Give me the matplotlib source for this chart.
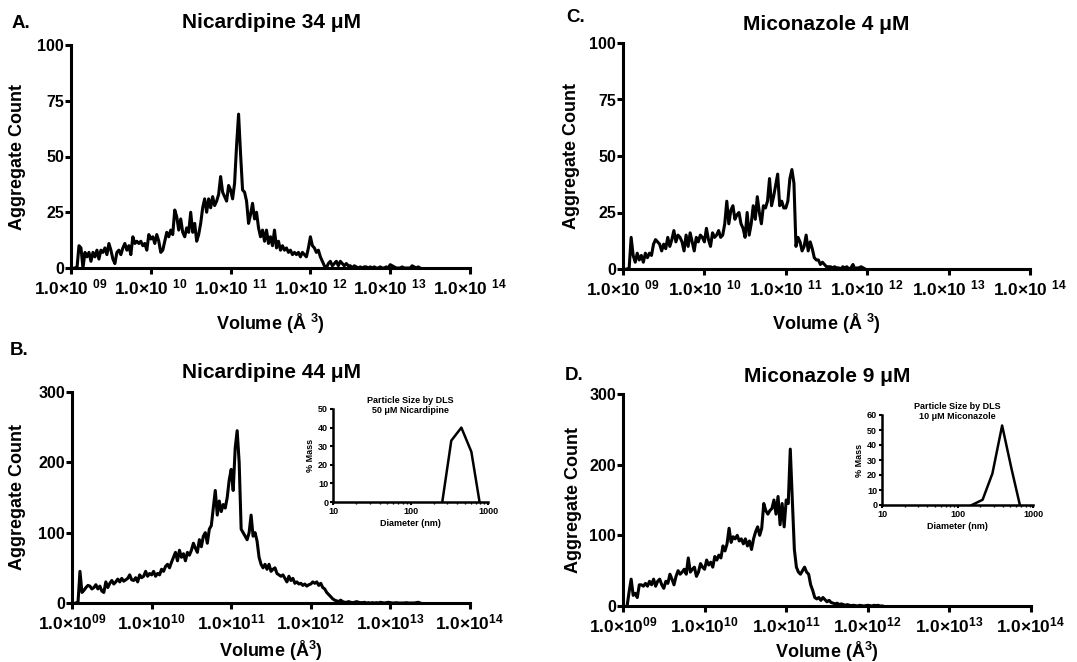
import matplotlib
matplotlib.use("Agg")
import matplotlib.pyplot as plt
from matplotlib.ticker import NullLocator, FixedLocator
import numpy as np

plt.rcParams['font.family'] = ['Liberation Sans', 'DejaVu Sans']
plt.rcParams['font.weight'] = 'bold'
plt.rcParams['mathtext.fontset'] = 'custom'
plt.rcParams['mathtext.rm'] = 'Liberation Sans:bold'
plt.rcParams['mathtext.it'] = 'Liberation Sans:bold'
plt.rcParams['mathtext.bf'] = 'Liberation Sans:bold'

# histogram bins, log10 of volume (A^3)
bin_start = 9.05
bin_step = 0.025

counts_a = [0, 0, 10, 9, 0, 7, 5, 7, 3, 7,
            5, 8, 4, 8, 7, 9, 6, 11, 8, 4,
            2, 7, 8, 6, 9, 11, 8, 10, 6, 14,
            11, 12, 11, 12, 10, 11, 8, 15, 13, 14,
            11, 15, 12, 7, 8, 12, 16, 14, 17, 15,
            26, 23, 17, 22, 16, 14, 18, 16, 25, 16,
            20, 12, 15, 20, 27, 31, 25, 31, 27, 32,
            28, 30, 33, 41, 34, 32, 30, 37, 35, 31,
            38, 55, 69, 51, 35, 34, 30, 20, 24, 29,
            22, 25, 18, 14, 17, 12, 17, 11, 14, 10,
            17, 9, 12, 8, 10, 8, 9, 7, 8, 6,
            7, 6, 7, 5, 7, 6, 5, 9, 14, 10,
            9, 7, 8, 5, 3, 1, 0, 2, 3, 1,
            2, 3, 1, 3, 2, 1, 2, 1, 1, 0,
            1, 0.5, 0, 0.5, 0, 0.5, 0.5, 0, 0.5, 0,
            0.5, 0, 0, 0.5, 0, 0, 0.5, 0, 1.5, 1,
            0.5, 0, 0, 0, 0.5, 0, 0, 0, 0, 1,
            0.5, 0, 0.5, 0]

counts_b = [0, 0, 45, 15, 18, 22, 25, 24, 20, 22,
            26, 20, 24, 17, 15, 30, 22, 28, 32, 27,
            30, 34, 30, 35, 31, 33, 35, 40, 33, 32,
            36, 30, 40, 36, 38, 45, 38, 42, 40, 45,
            38, 42, 40, 48, 45, 52, 55, 50, 58, 65,
            72, 60, 75, 65, 70, 60, 72, 68, 75, 85,
            78, 72, 90, 80, 95, 100, 85, 105, 110, 135,
            160, 125, 145, 130, 140, 135, 150, 175, 190, 160,
            220, 245, 200, 105, 100, 95, 90, 100, 125, 95,
            100, 88, 65, 55, 50, 55, 48, 55, 45, 48,
            50, 42, 40, 38, 40, 35, 30, 38, 32, 35,
            28, 30, 27, 28, 25, 27, 24, 26, 27, 30,
            28, 30, 25, 28, 22, 20, 15, 12, 9, 6,
            4, 3, 2, 4, 2, 1, 1, 2, 1, 0.5,
            1, 2, 1, 0.5, 0.5, 1, 0, 0.5, 0, 0.5,
            0, 0.5, 0, 1, 0.5, 0, 0.5, 1, 0.5, 0,
            0, 0.5, 0, 0, 0, 0, 0.5, 0, 0, 0,
            0, 0.5, 1, 0]

counts_c = [0, 0, 14, 6, 3, 7, 4, 6, 3, 7,
            5, 7, 6, 11, 13, 12, 11, 8, 11, 9,
            14, 10, 13, 17, 12, 15, 14, 12, 8, 15,
            10, 16, 12, 8, 14, 12, 15, 14, 12, 18,
            13, 10, 16, 14, 15, 17, 14, 15, 20, 30,
            20, 26, 28, 22, 24, 25, 20, 18, 14, 25,
            15, 20, 28, 22, 32, 25, 20, 28, 27, 30,
            40, 28, 32, 37, 42, 28, 30, 27, 27, 30,
            40, 44, 38, 10, 14, 12, 8, 10, 15, 8,
            12, 9, 5, 4, 4, 2, 3, 2, 1, 1,
            1, 0.5, 1, 0.5, 0.5, 0, 1, 0.5, 1, 0,
            0.5, 2, 0, 0.5, 0.5, 1, 0.5, 0]

counts_d = [0, 20, 38, 15, 18, 12, 30, 30, 28, 32,
            28, 35, 30, 38, 28, 35, 38, 30, 25, 35,
            32, 45, 38, 30, 42, 50, 45, 48, 52, 45,
            68, 48, 52, 55, 42, 48, 60, 55, 52, 65,
            58, 62, 55, 70, 65, 72, 68, 85, 78, 88,
            110, 90, 98, 95, 100, 92, 95, 88, 95, 85,
            92, 80, 95, 105, 112, 100, 110, 145, 135, 130,
            135, 138, 150, 130, 155, 115, 145, 112, 150, 145,
            222, 150, 80, 55, 48, 45, 50, 55, 48, 45,
            30, 22, 12, 10, 12, 8, 12, 9, 6, 8,
            5, 4, 3, 4, 2, 3, 2, 1, 2, 1,
            0.5, 1, 0.5, 0, 1, 0.5, 0, 0.5, 1, 0.5,
            0, 1, 0.5, 1, 0, 0]

# DLS insets
dls_b_diam = [257, 336, 453, 610, 778]
dls_b_mass = [0, 33, 40, 27, 0]
dls_d_diam = [155, 215, 290, 390, 520, 670]
dls_d_mass = [0, 3.5, 21, 53, 24, 0]

exponents = [9, 10, 11, 12, 13, 14]


def volumes(counts):
    return 10.0 ** (bin_start + bin_step * np.arange(len(counts)))


fig = plt.figure(figsize=(10.77, 6.62), dpi=100)
W, H = 1077.0, 662.0


def px_axes(l, r, t, b):
    return fig.add_axes([l / W, 1 - b / H, (r - l) / W, (b - t) / H])


def style_main(ax, ymax, yticks, spaced):
    ax.set_xscale('log')
    ax.set_xlim(1e9, 1e14)
    ax.set_ylim(0, ymax)
    ax.set_yticks(yticks)
    ax.set_yticklabels([str(v) for v in yticks])
    ax.set_xticks([10.0 ** e for e in exponents])
    gap = ' ' if spaced else ''
    ax.set_xticklabels([f'1.0×10{gap}$^{{{e:02d}}}$' for e in exponents])
    ax.xaxis.set_minor_locator(NullLocator())
    for s in ['top', 'right']:
        ax.spines[s].set_visible(False)
    for s in ['left', 'bottom']:
        ax.spines[s].set_linewidth(2.2)
    ax.tick_params(axis='x', width=2.2, length=4, pad=3, labelsize=12.5)
    ax.tick_params(axis='y', width=2.2, length=4, pad=1, labelsize=11.5)
    ax.set_ylabel('Aggregate Count', fontsize=13, fontweight='bold')
    ax.set_xlabel('Volume (Å' + gap + '$^{3}$)', fontsize=13, fontweight='bold')


def style_inset(ax, ymax, title):
    ax.set_xscale('log')
    ax.set_xlim(10, 1000)
    ax.set_ylim(0, ymax)
    ax.set_yticks(list(range(0, ymax + 1, 10)))
    ax.set_xticks([10, 100, 1000])
    ax.set_xticklabels(['10', '100', '1000'])
    ax.xaxis.set_minor_locator(FixedLocator([20, 30, 40, 50, 60, 70, 80, 90,
                                             200, 300, 400, 500, 600, 700, 800, 900]))
    for s in ['top', 'right']:
        ax.spines[s].set_visible(False)
    for s in ['left', 'bottom']:
        ax.spines[s].set_linewidth(1.8)
    ax.tick_params(which='major', width=1.5, length=2.5, pad=1, labelsize=6.5)
    ax.tick_params(which='minor', width=1.0, length=1.5)
    ax.set_ylabel('% Mass', fontsize=6.5, fontweight='bold', labelpad=2)
    ax.set_xlabel('Diameter (nm)', fontsize=6.5, fontweight='bold', labelpad=2)
    ax.text(0.5, 0.935, title, transform=ax.transAxes, ha='center', va='bottom',
            fontsize=6.5, fontweight='bold', linespacing=1.15)


ax_a = px_axes(71, 470, 45, 268)
ax_c = px_axes(623, 1030, 43, 269)
ax_b = px_axes(72, 470, 392, 603)
ax_d = px_axes(623, 1031, 394, 606)

ax_a.plot(volumes(counts_a), counts_a, color='black', lw=2.2)
ax_b.plot(volumes(counts_b), counts_b, color='black', lw=2.2)
ax_c.plot(volumes(counts_c), counts_c, color='black', lw=2.2)
ax_d.plot(volumes(counts_d), counts_d, color='black', lw=2.2)

style_main(ax_a, 100, [0, 25, 50, 75, 100], True)
style_main(ax_c, 100, [0, 25, 50, 75, 100], True)
style_main(ax_b, 300, [0, 100, 200, 300], False)
style_main(ax_d, 300, [0, 100, 200, 300], False)

ax_a.yaxis.set_label_coords(-0.112, 0.5)
ax_c.yaxis.set_label_coords(-0.106, 0.5)
ax_b.yaxis.set_label_coords(-0.116, 0.5)
ax_d.yaxis.set_label_coords(-0.100, 0.5)
ax_a.xaxis.set_label_coords(0.5, -0.195)
ax_c.xaxis.set_label_coords(0.5, -0.19)
ax_b.xaxis.set_label_coords(0.5, -0.17)
ax_d.xaxis.set_label_coords(0.5, -0.16)

# titles and panel letters
title_kw = dict(ha='center', va='baseline', fontsize=15, fontweight='bold')
letter_kw = dict(ha='left', va='baseline', fontsize=13.5, fontweight='bold')
fig.text(271 / W, 1 - 28 / H, 'Nicardipine 34 μM', **title_kw)
fig.text(826 / W, 1 - 30 / H, 'Miconazole 4 μM', **title_kw)
fig.text(271 / W, 1 - 378 / H, 'Nicardipine 44 μM', **title_kw)
fig.text(827 / W, 1 - 382 / H, 'Miconazole 9 μM', **title_kw)
fig.text(12 / W, 1 - 28 / H, 'A.', **letter_kw)
fig.text(566 / W, 1 - 22 / H, 'C.', **letter_kw)
fig.text(10 / W, 1 - 355 / H, 'B.', **letter_kw)
fig.text(565 / W, 1 - 380 / H, 'D.', **letter_kw)

# insets
in_b = px_axes(333, 488, 409, 502)
in_b.plot(dls_b_diam, dls_b_mass, color='black', lw=1.8)
style_inset(in_b, 50, 'Particle Size by DLS\n50 μM Nicardipine')

in_d = px_axes(882, 1033, 415, 505)
in_d.plot(dls_d_diam, dls_d_mass, color='black', lw=1.8)
style_inset(in_d, 60, 'Particle Size by DLS\n10 μM Miconazole')

fig.savefig('out.png', dpi=100)
